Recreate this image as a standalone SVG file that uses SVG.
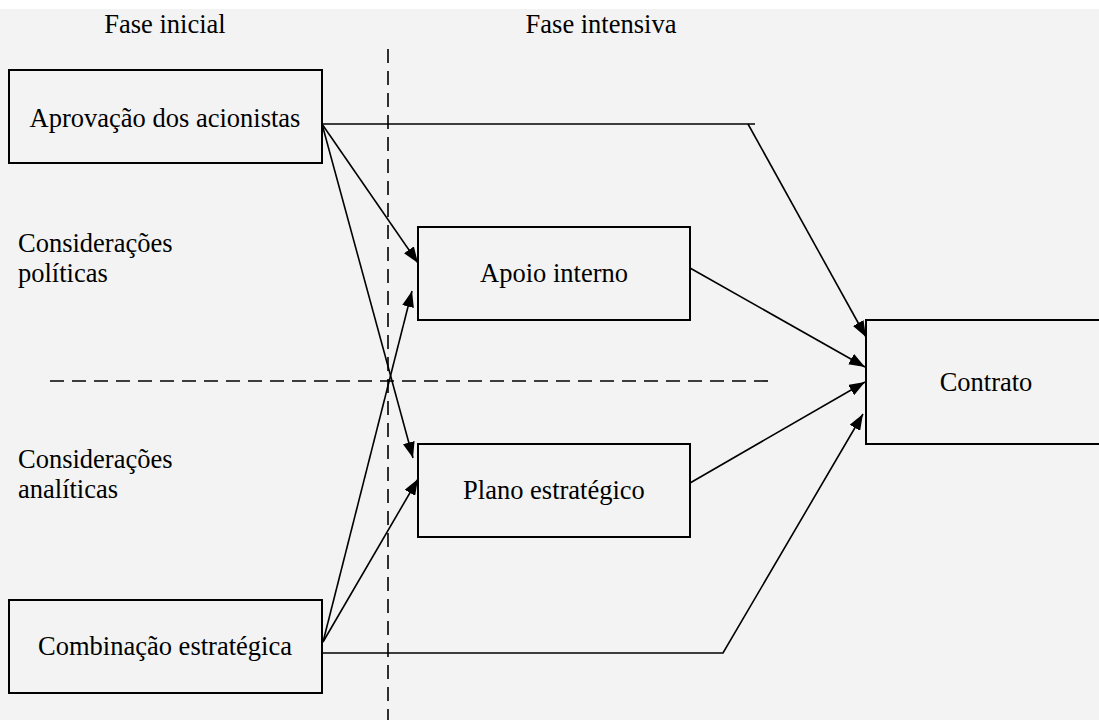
<svg xmlns="http://www.w3.org/2000/svg" width="1099" height="720" viewBox="0 0 1099 720">
<defs>
<style>
text{font-family:"Liberation Serif","Times New Roman",serif;font-size:26.5px;fill:#000}
.box{fill:#f3f3f3;stroke:#000;stroke-width:2}
.c{fill:none;stroke:#000;stroke-width:1.6}
.dash{fill:none;stroke:#000;stroke-width:1.6;stroke-dasharray:14 8}
</style>
<marker id="ah" markerUnits="userSpaceOnUse" markerWidth="16" markerHeight="12" viewBox="0 0 16 12" refX="16" refY="6" orient="auto">
<path d="M0,0 L16,6 L0,12 Z" fill="#000"/>
</marker>
</defs>
<rect x="0" y="0" width="1099" height="720" fill="#fff"/>
<rect x="0" y="9" width="1099" height="711" fill="#f3f3f3"/>
<g id="labels">
<text x="165" y="33" text-anchor="middle">Fase inicial</text>
<text x="601" y="33" text-anchor="middle">Fase intensiva</text>
<text x="18" y="252">Considerações</text>
<text x="18" y="282">políticas</text>
<text x="18" y="468">Considerações</text>
<text x="18" y="498">analíticas</text>
</g>
<g id="dividers">
<line class="dash" x1="388" y1="49" x2="388" y2="720"/>
<line class="dash" x1="50" y1="381" x2="770" y2="381"/>
</g>
<g id="connectors">
<polyline class="c" points="322,124 755,124"/>
<line class="c" x1="748" y1="124" x2="866" y2="337" marker-end="url(#ah)"/>
<line class="c" x1="322" y1="124" x2="418" y2="263" stroke-width="1.3" marker-end="url(#ah)"/>
<line class="c" x1="322" y1="124" x2="413" y2="458" marker-end="url(#ah)"/>
<line class="c" x1="323" y1="642" x2="412" y2="291" marker-end="url(#ah)"/>
<line class="c" x1="323" y1="642" x2="418" y2="479" marker-end="url(#ah)"/>
<polyline class="c" points="322,653 723,653 863,414" marker-end="url(#ah)"/>
<line class="c" x1="690" y1="268" x2="865" y2="367" marker-end="url(#ah)"/>
<line class="c" x1="690" y1="483" x2="865" y2="382" marker-end="url(#ah)"/>
</g>
<g id="aprovacao">
<rect class="box" x="9" y="70" width="313" height="93"/>
<text x="165" y="127" text-anchor="middle">Aprovação dos acionistas</text>
</g>
<g id="apoio">
<rect class="box" x="418" y="227" width="272" height="93"/>
<text x="554" y="282" text-anchor="middle">Apoio interno</text>
</g>
<g id="plano">
<rect class="box" x="418" y="444" width="272" height="93"/>
<text x="554" y="499" text-anchor="middle">Plano estratégico</text>
</g>
<g id="contrato">
<rect class="box" x="866" y="320" width="240" height="124"/>
<text x="986" y="391" text-anchor="middle">Contrato</text>
</g>
<g id="combinacao">
<rect class="box" x="9" y="600" width="313" height="93"/>
<text x="165" y="655" text-anchor="middle">Combinação estratégica</text>
</g>
</svg>
